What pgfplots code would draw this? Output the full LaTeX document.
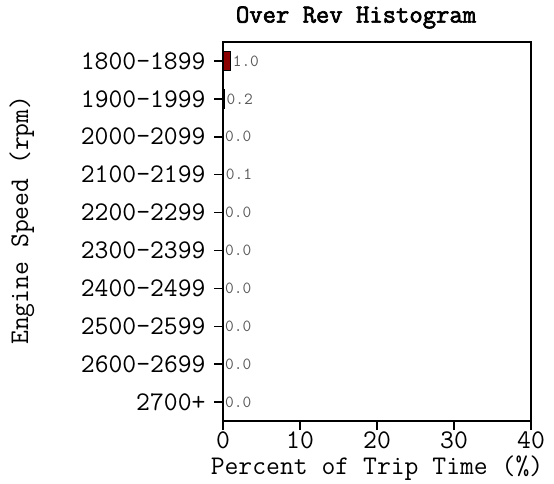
\documentclass[border=0pt]{standalone}
\usepackage{pgfplots}
\pgfplotsset{compat=1.18}
\usepackage{fontspec}
\setmainfont{Latin Modern Mono}[AutoFakeBold=2.5]
\definecolor{barred}{RGB}{139,0,0}
\begin{document}
\begin{tikzpicture}
\begin{axis}[
  name=ax,
  scale only axis,
  width=308bp, height=379bp,
  xbar,
  xmin=0, xmax=40,
  ymin=-0.5, ymax=9.5,
  y dir=reverse,
  bar width=0.5,
  xtick={0,10,20,30,40},
  ytick={0,1,2,3,4,5,6,7,8,9},
  yticklabels={1800-1899,1900-1999,2000-2099,2100-2199,2200-2299,2300-2399,2400-2499,2500-2599,2600-2699,2700+},
  xtick pos=bottom, ytick pos=left,
  tick align=outside,
  major tick length=9bp,
  axis line style={line width=1.5bp},
  every tick/.style={black, line width=1.5bp},
  ticklabel style={font=\fontsize{27}{28}\selectfont},
  yticklabel style={xshift=-5bp},
  xticklabel style={yshift=2bp},
  /pgf/number format/assume math mode=true,
  xlabel={Percent of Trip Time (\%)},
  ylabel={Engine Speed (rpm)},
  label style={font=\fontsize{27}{28}\selectfont},
  xlabel style={at={(axis description cs:0.5,0)}, anchor=center, yshift=-47bp},
  ylabel style={at={([xshift=-201bp]axis description cs:0,0.53)}, anchor=center},
  title={\textbf{Over Rev Histogram}},
  title style={font=\fontsize{26}{28}\selectfont, at={(axis description cs:0.432,1)}, anchor=south, yshift=4bp},
  nodes near coords,
  nodes near coords style={font=\fontsize{17}{18}\selectfont, text=black!65, anchor=west, inner sep=1.5bp,
    /pgf/number format/.cd, fixed, fixed zerofill, precision=1},
]
\addplot[fill=barred, draw=black, line width=1.2bp] coordinates {
(1.0,0) (0.2,1) (0.0,2) (0.1,3) (0.0,4) (0.0,5) (0.0,6) (0.0,7) (0.0,8) (0.0,9)
};
\end{axis}
\pgfresetboundingbox
\path ([shift={(-223bp,-62bp)}]ax.south west) rectangle ([shift={(23bp,42bp)}]ax.north east);
\end{tikzpicture}
\end{document}
